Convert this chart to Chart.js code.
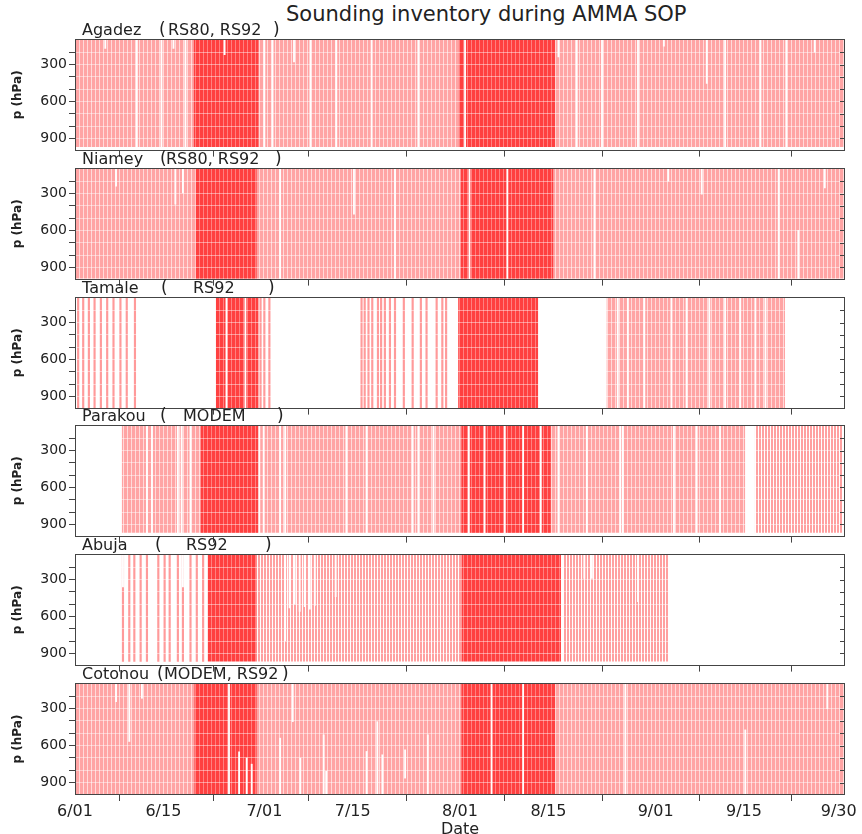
<!DOCTYPE html>
<html>
<head>
<meta charset="utf-8">
<script src="https://cdn.jsdelivr.net/npm/chart.js@4.4.1/dist/chart.umd.min.js"></script>
<style>
  body { margin: 0; background: #fff; width: 862px; height: 834px; overflow: hidden; position: relative; }
  #title { position: absolute; left: 286px; top: 4px; font: 21px "DejaVu Sans", sans-serif; color: #222; line-height: 1; white-space: nowrap; }
  canvas { position: absolute; left: 0; }
</style>
</head>
<body>
<div id="title">Sounding inventory during AMMA SOP</div>
<canvas id="p0"></canvas>
<canvas id="p1"></canvas>
<canvas id="p2"></canvas>
<canvas id="p3"></canvas>
<canvas id="p4"></canvas>
<canvas id="p5"></canvas>
<script>
// Sounding inventory, AMMA SOP 2006 (x = days since 6/01, y = pressure hPa)

const DATE_TICKS  = [0, 14, 30, 44, 61, 75, 92, 106, 121];
const DATE_LABELS = ['6/01', '6/15', '7/01', '7/15', '8/01', '8/15', '9/01', '9/15', '9/30'];
const P_TICKS   = [200, 300, 400, 500, 600, 700, 800, 900];
const P_LABELED = [300, 600, 900];
const DAY_MAX = 122;
const P_TOP = 92, P_BOTTOM = 1000;

const STATIONS = ['Agadez', 'Niamey', 'Tamale', 'Parakou', 'Abuja', 'Cotonou'];
const SONDES   = ['RS80, RS92', 'RS80, RS92', 'RS92', 'MODEM', 'RS92', 'MODEM, RS92'];
const SURFACE  = [970, 992, 997, 968, 966, 1005];

// spans [start, end] of days; singles = individual soundings; missing = [day, pFrom, pTo] gaps
const agadezRoutine   = [[0, 122]];
const agadezSparse    = [];
const agadezIntensive = [[18.8, 29.1], [60.8, 76.1]];
const agadezSingles   = [];
const agadezMissing   = [[4.8, 0, 168], [9.8, 0, 1100], [13.7, 0, 1100], [15.6, 0, 168], [17.5, 0, 1100],
  [23.7, 0, 220], [30.0, 0, 1100], [31.3, 0, 1100], [34.7, 0, 278], [37.3, 0, 1100], [41.4, 0, 1100],
  [47.0, 0, 1100], [54.4, 0, 1100], [61.8, 0, 1100], [76.6, 0, 238], [79.5, 0, 1100], [83.5, 0, 1100],
  [89.2, 0, 1100], [93.3, 0, 150], [100.1, 0, 453], [103.0, 0, 1100], [108.6, 0, 1100], [112.7, 0, 1100],
  [117.2, 0, 200]];

const niameyRoutine   = [[0, 122]];
const niameySparse    = [];
const niameyIntensive = [[19.1, 28.8], [61.1, 75.8]];
const niameySingles   = [];
const niameyMissing   = [[6.5, 0, 240], [15.9, 0, 386], [17.1, 0, 295], [32.5, 0, 1100], [44.2, 0, 467],
  [50.7, 0, 1100], [62.5, 0, 1100], [68.5, 0, 1100], [82.3, 0, 1100], [94.0, 0, 200], [99.3, 0, 305],
  [111.5, 0, 1100], [114.6, 600, 1100], [118.8, 0, 254]];

const tamaleRoutine   = [[84.2, 112.5]];
const tamaleSparse    = [];
const tamaleIntensive = [[22.3, 29.1], [60.7, 73.4]];
const tamaleSingles   = [0.5, 1.3, 2.2, 3.1, 4.1, 5.1, 6.1, 7.2, 8.2, 9.5, 29.4, 30.0, 30.8,
  45.4, 45.9, 46.5, 47.1, 48.0, 48.5, 49.1, 49.9, 50.7, 52.1, 53.5, 54.8, 55.7, 57.3, 58.2, 58.8];
const tamaleMissing   = [[24.0, 0, 1100], [27.0, 0, 1100], [86.0, 0, 1100], [87.6, 0, 1100], [90.2, 0, 1100],
  [94.5, 0, 1100], [96.9, 0, 1100], [100.5, 0, 1100], [103.0, 0, 1100], [105.4, 0, 1100],
  [107.8, 0, 1100], [109.4, 0, 1100]];

const parakouRoutine   = [[7.4, 106.2]];
const parakouSparse    = [[107.7, 121.6]];
const parakouIntensive = [[19.9, 29.1], [61.2, 75.4]];
const parakouSingles   = [];
const parakouMissing   = [[11.4, 0, 1100], [12.2, 0, 1100], [16.3, 0, 1100], [16.9, 0, 1100], [18.3, 0, 1100],
  [29.2, 0, 1100], [29.9, 0, 1100], [32.5, 0, 1100], [33.3, 0, 1100], [43.0, 0, 1100], [46.2, 0, 1100],
  [53.5, 0, 1100], [54.4, 0, 1100], [56.8, 0, 1100], [62.4, 0, 1100], [64.9, 0, 1100], [68.1, 0, 1100],
  [71.0, 0, 1100], [73.8, 0, 1100], [76.6, 0, 1100], [81.1, 0, 1100], [86.4, 0, 1100], [86.8, 0, 1100],
  [94.9, 0, 1100], [98.5, 0, 1100], [102.2, 0, 1100]];

const abujaRoutine   = [];
const abujaSparse    = [[28.8, 61.2], [77.4, 94.1]];
const abujaIntensive = [[21.0, 28.8], [61.2, 77.0]];
const abujaSingles   = [7.6, 8.6, 9.4, 10.4, 11.4, 13.2, 14.2, 15.0, 16.3, 17.1, 18.3, 19.3, 20.3];
const abujaMissing   = [[7.6, 0, 359], [17.1, 0, 359], [33.3, 0, 800], [34.0, 0, 530], [34.8, 0, 500],
  [35.6, 0, 560], [36.4, 0, 520], [37.2, 0, 540], [38.0, 0, 510], [41.3, 0, 440], [80.7, 0, 290],
  [81.9, 0, 290], [89.2, 0, 480]];

const cotonouRoutine   = [[0, 122]];
const cotonouSparse    = [];
const cotonouIntensive = [[18.9, 28.8], [61.2, 76.1]];
const cotonouSingles   = [];
const cotonouMissing   = [[6.5, 0, 243], [8.6, 0, 566], [10.6, 0, 216], [24.4, 0, 1100], [26.0, 650, 1100],
  [27.2, 700, 1100], [28.0, 750, 1100], [32.5, 539, 1100], [34.5, 0, 405], [35.7, 701, 1100],
  [39.4, 512, 1100], [39.8, 808, 1100], [46.2, 647, 1100], [47.9, 405, 1100], [48.7, 674, 1100],
  [52.3, 634, 863], [55.9, 512, 1100], [66.0, 0, 1100], [71.0, 0, 1100], [87.2, 0, 1100],
  [106.2, 472, 1100], [119.2, 0, 300]];

const STATION_DATA = [
  [agadezRoutine, agadezSparse, agadezIntensive, agadezSingles, agadezMissing],
  [niameyRoutine, niameySparse, niameyIntensive, niameySingles, niameyMissing],
  [tamaleRoutine, tamaleSparse, tamaleIntensive, tamaleSingles, tamaleMissing],
  [parakouRoutine, parakouSparse, parakouIntensive, parakouSingles, parakouMissing],
  [abujaRoutine, abujaSparse, abujaIntensive, abujaSingles, abujaMissing],
  [cotonouRoutine, cotonouSparse, cotonouIntensive, cotonouSingles, cotonouMissing],
];

// --- layout ---
const PANEL_TOPS = [39, 168, 297, 425, 554, 683];
const PANEL_H = 112;
const LABEL_SPACE = 22;
// x of "(", inner text, ")" for each station label
const BRACKET_X = [[159, 168, 273], [160, 166, 275], [161, 193, 268], [160, 183, 277], [155, 186, 265], [157, 164, 282]];

Chart.defaults.font.family = '"DejaVu Sans", sans-serif';
Chart.defaults.color = '#222';

function stripes(ctx, cols) {
  const c = document.createElement('canvas');
  c.width = cols.length; c.height = 1;
  const g = c.getContext('2d');
  cols.forEach((col, i) => { g.fillStyle = col; g.fillRect(i, 0, 1, 1); });
  return ctx.createPattern(c, 'repeat');
}

const framePlugin = {
  id: 'frame',
  afterDraw(chart) {
    const { ctx, chartArea: a } = chart;
    const ys = chart.scales.y;
    ctx.save();
    ctx.strokeStyle = '#444';
    ctx.lineWidth = 1;
    ctx.strokeRect(Math.round(a.left) + 0.5, Math.round(a.top) + 0.5,
      Math.round(a.right - a.left) - 1, Math.round(a.bottom - a.top) - 1);
    ctx.beginPath();
    P_TICKS.forEach(v => {
      const y = Math.round(ys.getPixelForValue(v)) + 0.5;
      ctx.moveTo(a.right - 5, y); ctx.lineTo(a.right, y);
    });
    ctx.stroke();
    // station label
    const i = chart.options.plugins.frame.index;
    const bx = BRACKET_X[i];
    const base = a.top - 4;
    ctx.fillStyle = '#222';
    ctx.font = '16px "DejaVu Sans", sans-serif';
    ctx.textBaseline = 'alphabetic';
    ctx.fillText(STATIONS[i], 82, base);
    ctx.font = '17px "DejaVu Sans", sans-serif';
    ctx.fillText('(', bx[0], base);
    ctx.fillText(')', bx[2], base);
    ctx.font = '16px "DejaVu Sans", sans-serif';
    ctx.fillText(SONDES[i], bx[1], base);
    ctx.restore();
  }
};

function makePanel(i) {
  const last = i === STATIONS.length - 1;
  const canvas = document.getElementById('p' + i);
  const bottomSpace = last ? 44 : 10;
  canvas.width = 862;
  canvas.height = LABEL_SPACE + PANEL_H + bottomSpace;
  canvas.style.top = (PANEL_TOPS[i] - LABEL_SPACE) + 'px';
  const ctx = canvas.getContext('2d');

  const fills = {
    routine:   stripes(ctx, ['#ffa4a4', '#ffa4a4', '#ffa4a4', '#ffdada']),
    sparse:    stripes(ctx, ['#ffa0a0', '#ffa0a0', '#ffffff']),
    intensive: stripes(ctx, ['#ff4040', '#ff4040', '#ff4040', '#ff8080']),
  };
  const [routine, sparse, intensive, singles, missing] = STATION_DATA[i];
  const surface = SURFACE[i];

  // lower order is drawn on top
  const spanSet = (spans, fill, order) => spans.map(([s, e]) => ({
    type: 'line',
    data: [{ x: s, y: P_TOP }, { x: e, y: P_TOP }],
    backgroundColor: fill,
    borderWidth: 0,
    pointRadius: 0,
    fill: { value: surface },
    order,
  }));

  const datasets = [
    ...spanSet(routine, fills.routine, 7),
    ...spanSet(sparse, fills.sparse, 6),
    ...spanSet(intensive, fills.intensive, 5),
    {
      type: 'bar',
      data: singles.map(d => ({ x: d, y: [P_TOP, surface] })),
      backgroundColor: '#ff9a9a',
      barThickness: 1.5,
      grouped: false,
      order: 2,
    },
    {
      type: 'bar',
      data: missing.map(([d, p0, p1]) => ({ x: d, y: [p0, p1] })),
      backgroundColor: '#ffffff',
      barThickness: 1.2,
      grouped: false,
      order: 1,
    },
  ];

  new Chart(ctx, {
    type: 'bar',
    data: { datasets },
    options: {
      responsive: false,
      animation: false,
      devicePixelRatio: 1,
      events: [],
      layout: { padding: { top: LABEL_SPACE, right: 17, left: 0, bottom: 0 } },
      plugins: { legend: { display: false }, tooltip: { enabled: false }, frame: { index: i } },
      scales: {
        x: {
          type: 'linear',
          min: 0, max: DAY_MAX,
          offset: false,
          afterBuildTicks: s => { s.ticks = DATE_TICKS.map(v => ({ value: v })); },
          afterFit: s => { s.height = bottomSpace; },
          ticks: {
            display: last,
            autoSkip: false, maxRotation: 0,
            font: { size: 16 }, padding: 1,
            callback: (v, idx) => DATE_LABELS[idx],
          },
          grid: { drawOnChartArea: false, tickLength: 6, tickColor: '#444' },
          border: { display: false },
          title: { display: last, text: 'Date', font: { size: 16 }, padding: { top: 0, bottom: 0 } },
        },
        y: {
          type: 'linear',
          reverse: true,
          min: P_TOP, max: P_BOTTOM,
          afterBuildTicks: s => { s.ticks = P_TICKS.map(v => ({ value: v })); },
          afterFit: s => { s.width = 75; },
          ticks: {
            autoSkip: false,
            font: { size: 14 }, padding: 2,
            callback: v => P_LABELED.includes(v) ? String(v) : '',
          },
          grid: { z: 1, color: 'rgba(255,255,255,0.45)', tickLength: 6, tickColor: '#444' },
          border: { display: false },
          title: { display: true, text: 'p (hPa)', font: { size: 12, weight: 'bold' }, padding: { top: 11, bottom: 0 } },
        },
      },
    },
    plugins: [framePlugin],
  });
}

STATIONS.forEach((_, i) => makePanel(i));
</script>
</body>
</html>
